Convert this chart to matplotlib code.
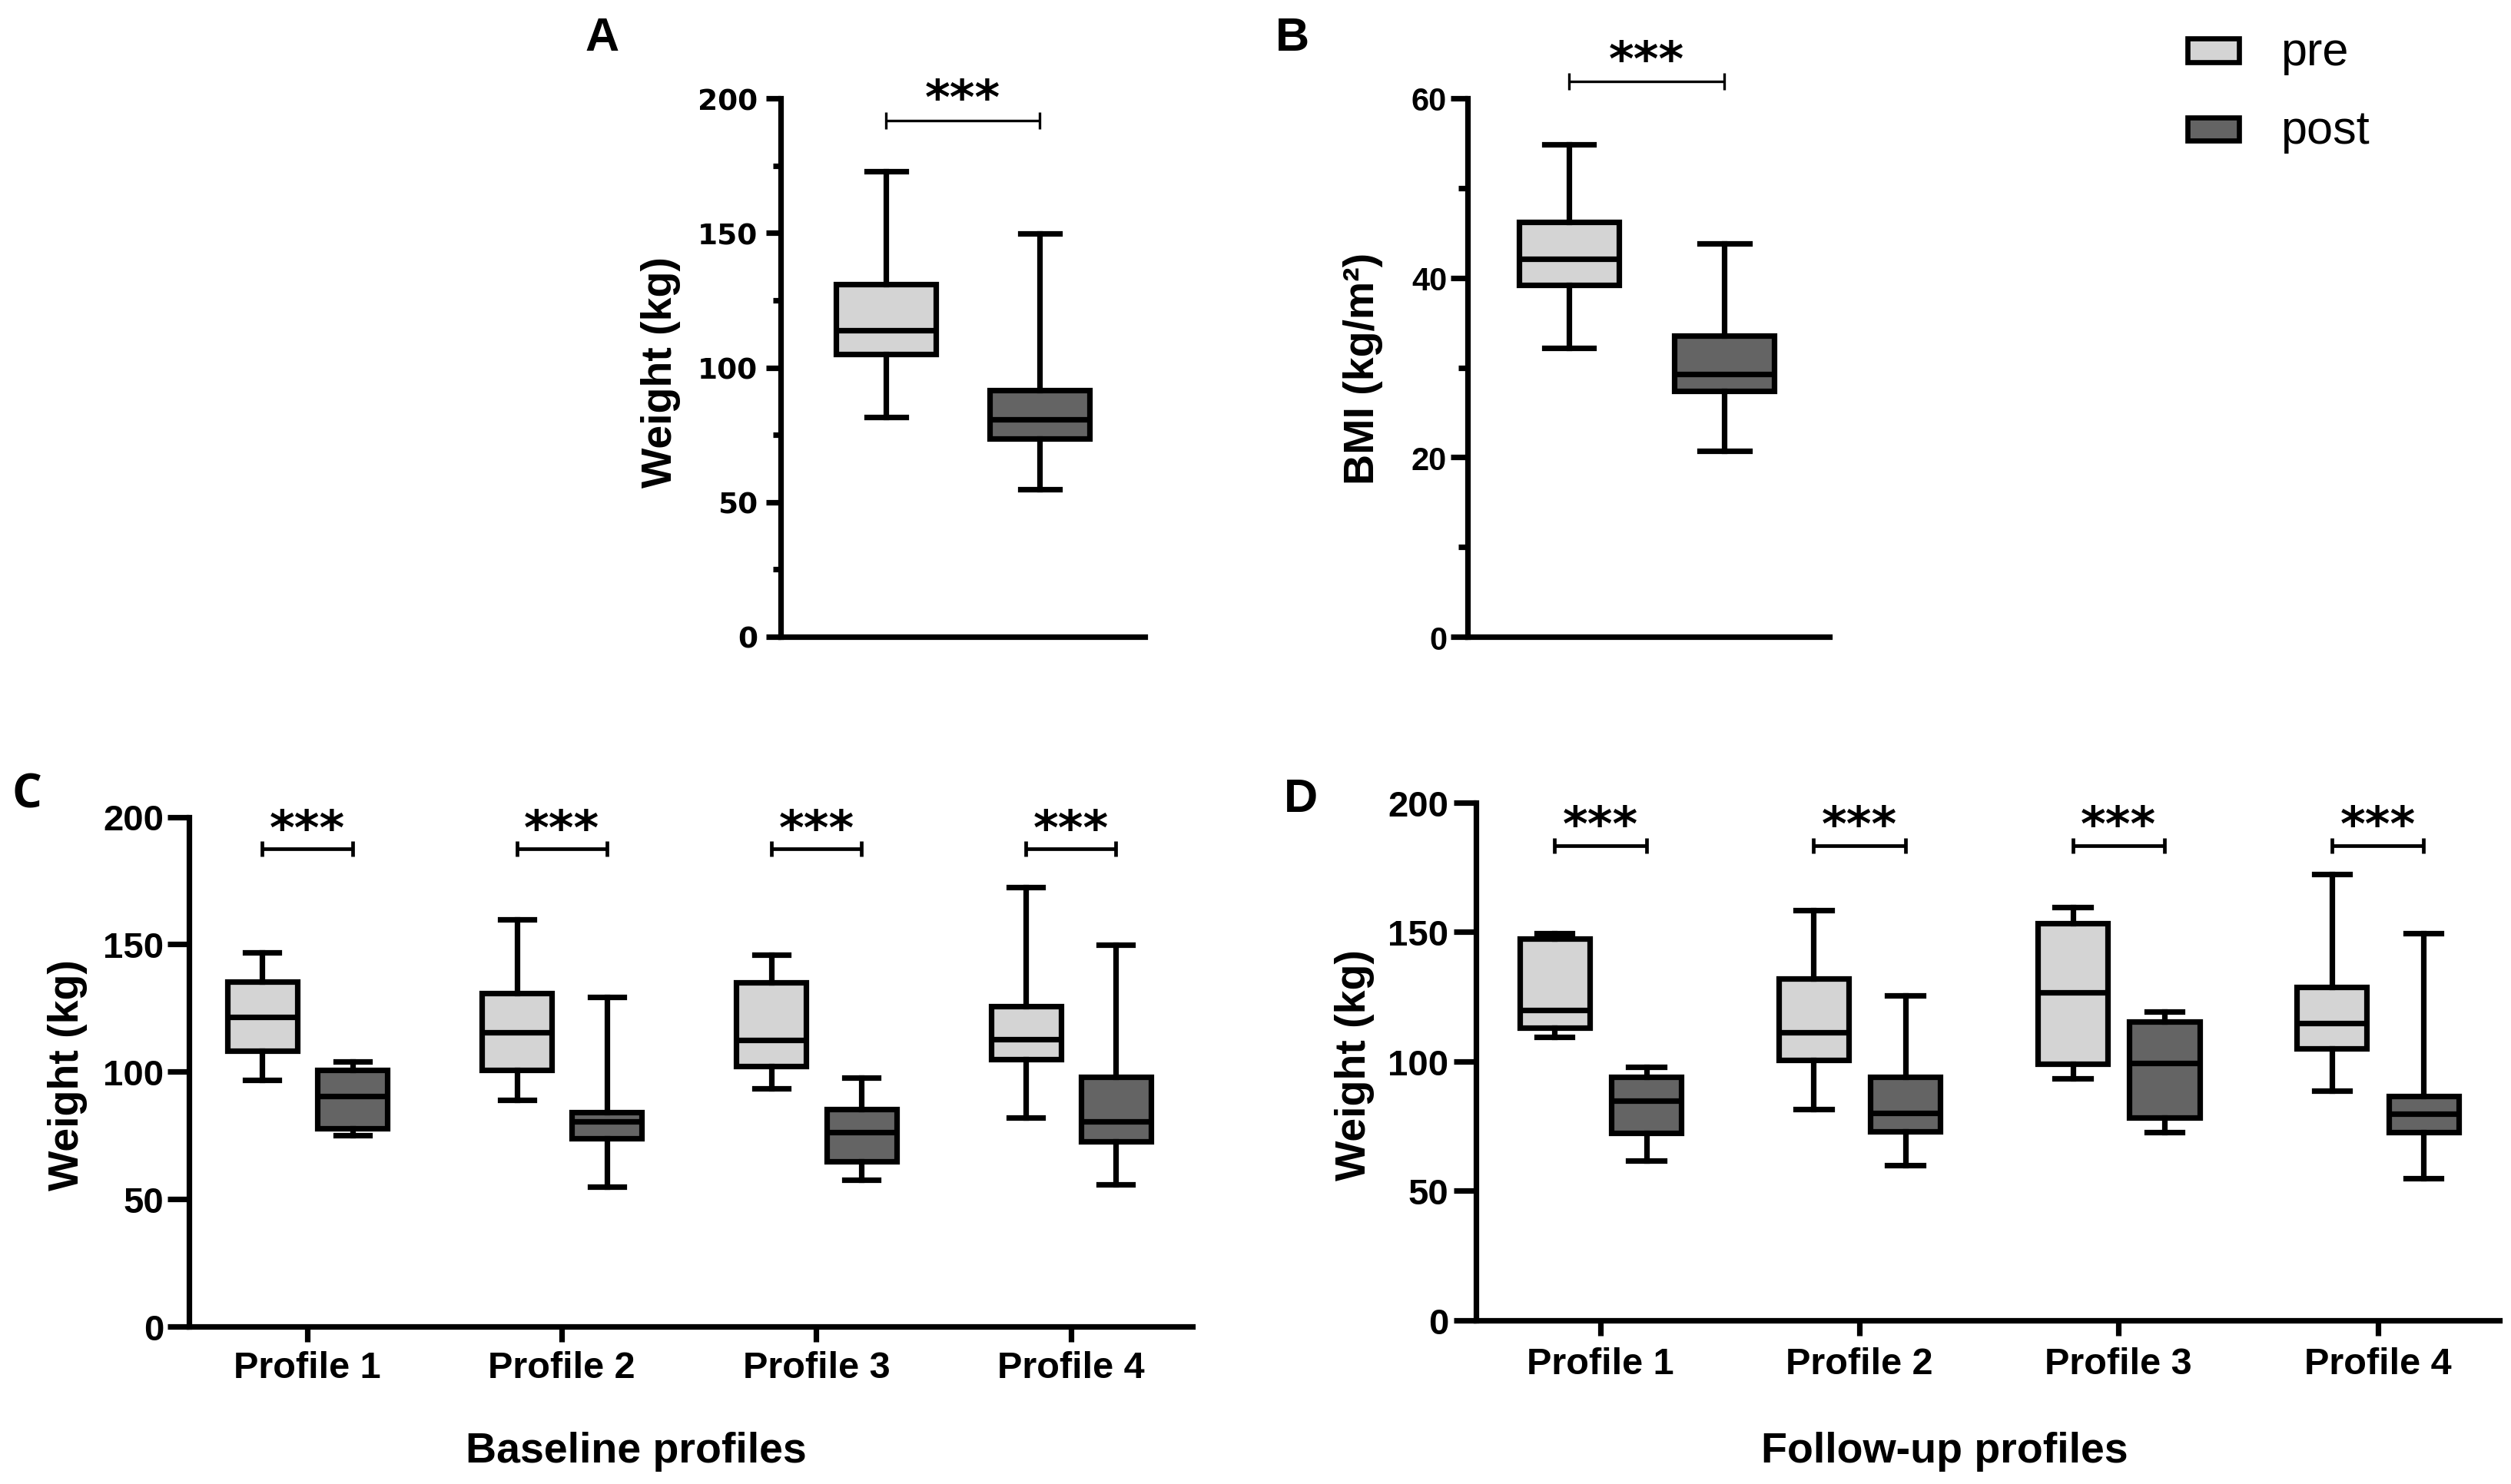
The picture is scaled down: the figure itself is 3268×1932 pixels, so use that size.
import matplotlib
matplotlib.use('Agg')
import matplotlib.pyplot as plt
from matplotlib.patches import Rectangle
from matplotlib.ticker import MultipleLocator

plt.rcParams['font.family'] = ['Liberation Sans', 'DejaVu Sans']

# ---------------- data ----------------
groups = ['pre', 'post']
profiles = ['Profile 1', 'Profile 2', 'Profile 3', 'Profile 4']
pre_color = '#d4d4d4'
post_color = '#646464'

# Panel A: weight (kg), [pre, post]
a_whislo = [81.5, 54.9]
a_q1 = [105.0, 73.7]
a_med = [113.7, 80.7]
a_q3 = [131.0, 91.7]
a_whishi = [172.8, 149.8]

# Panel B: BMI (kg/m2), [pre, post]
b_whislo = [32.2, 20.7]
b_q1 = [39.2, 27.4]
b_med = [42.1, 29.3]
b_q3 = [46.2, 33.55]
b_whishi = [54.9, 43.8]

# Panel C: baseline profiles
c_pre_whislo = [96.9, 89.0, 93.3, 82.1]
c_pre_q1 = [108.3, 100.8, 102.2, 105.0]
c_pre_med = [121.5, 115.3, 112.5, 112.8]
c_pre_q3 = [135.3, 130.8, 135.0, 125.6]
c_pre_whishi = [146.8, 159.9, 145.8, 172.4]
c_post_whislo = [75.0, 54.9, 57.7, 55.9]
c_post_q1 = [77.8, 74.0, 64.7, 72.7]
c_post_med = [90.5, 80.6, 76.3, 80.6]
c_post_q3 = [100.8, 84.0, 85.3, 98.0]
c_post_whishi = [104.0, 129.3, 97.8, 149.8]

# Panel D: follow-up profiles
d_pre_whislo = [109.6, 81.5, 93.5, 88.6]
d_pre_q1 = [112.9, 100.6, 99.1, 105.0]
d_pre_med = [119.7, 111.1, 126.8, 114.8]
d_pre_q3 = [147.4, 131.9, 153.5, 128.8]
d_pre_whishi = [149.4, 158.5, 159.6, 172.5]
d_post_whislo = [61.8, 59.8, 72.7, 54.8]
d_post_q1 = [72.3, 72.9, 78.4, 72.7]
d_post_med = [84.7, 80.1, 99.4, 79.7]
d_post_q3 = [93.9, 94.1, 115.3, 86.5]
d_post_whishi = [97.8, 125.5, 119.4, 149.4]

# significance brackets (y level in data units)
a_bracket = 191.7
b_bracket = 61.9
c_bracket = [187.4, 187.4, 187.4, 187.4]
d_bracket = [183.4, 183.4, 183.4, 183.4]
sig_label = '***'

# ---------------- helpers ----------------
def make_stats(lo, q1, med, q3, hi):
    return [dict(whislo=l, q1=a, med=m, q3=b, whishi=h, fliers=[])
            for l, a, m, b, h in zip(lo, q1, med, q3, hi)]


def draw_boxes(ax, positions, stats, width, capw, colors, lw):
    bp = ax.bxp(stats, positions=positions, widths=width, capwidths=capw,
                patch_artist=True, showfliers=False, manage_ticks=False,
                boxprops=dict(edgecolor='black', linewidth=lw),
                medianprops=dict(color='black', linewidth=lw, solid_capstyle='butt'),
                whiskerprops=dict(color='black', linewidth=lw),
                capprops=dict(color='black', linewidth=lw))
    for patch, c in zip(bp['boxes'], colors):
        patch.set_facecolor(c)
        patch.set_joinstyle('miter')
    return bp


def bracket(ax, x0, x1, y, lw, ms, fs, off):
    ax.plot([x0, x1], [y, y], color='black', lw=lw, marker='|', markersize=ms,
            mew=lw, clip_on=False, solid_capstyle='butt')
    ax.annotate(sig_label, xy=((x0 + x1) / 2, y), xytext=(0, off),
                textcoords='offset points', ha='center', va='baseline',
                fontsize=fs, fontweight='bold', family='DejaVu Sans',
                annotation_clip=False)


def style(ax, lw):
    for s in ['top', 'right']:
        ax.spines[s].set_visible(False)
    for s in ['left', 'bottom']:
        ax.spines[s].set_linewidth(lw)
        ax.spines[s].set_capstyle('projecting')


W, H = 3268, 1933
fig = plt.figure(figsize=(W / 200, H / 200), dpi=200)


def px_rect(x0, y_top, x1, y_bot):
    return [x0 / W, 1 - y_bot / H, (x1 - x0) / W, (y_bot - y_top) / H]


# ---------------- Panel A ----------------
axA = fig.add_axes(px_rect(1016, 129, 1490, 830))
style(axA, 2.6)
draw_boxes(axA, [0, 1], make_stats(a_whislo, a_q1, a_med, a_q3, a_whishi),
           0.65, 0.255, [pre_color, post_color], 2.6)
axA.set_xlim(-0.685, 1.685)
axA.set_ylim(0, 200)
axA.set_yticks([0, 50, 100, 150, 200])
axA.yaxis.set_minor_locator(MultipleLocator(25))
axA.tick_params(axis='x', bottom=False, labelbottom=False)
axA.tick_params(axis='y', which='major', length=6.8, width=2.6, pad=4)
axA.tick_params(axis='y', which='minor', length=3.6, width=2.6)
for t in axA.get_yticklabels():
    t.set_fontfamily('DejaVu Sans')
    t.set_fontweight('bold')
    t.set_fontsize(13.5)
bracket(axA, 0, 1, a_bracket, 1.2, 8, 22.5, 3.5)

# ---------------- Panel B ----------------
axB = fig.add_axes(px_rect(1909.6, 129, 2380.8, 830))
style(axB, 2.6)
draw_boxes(axB, [0, 1], make_stats(b_whislo, b_q1, b_med, b_q3, b_whishi),
           0.64, 0.32, [pre_color, post_color], 2.6)
axB.set_xlim(-0.654, 1.675)
axB.set_ylim(0, 60)
axB.set_yticks([0, 20, 40, 60])
axB.yaxis.set_minor_locator(MultipleLocator(10))
axB.tick_params(axis='x', bottom=False, labelbottom=False)
axB.tick_params(axis='y', which='major', length=8, width=2.6, pad=1.5,
                labelsize=15)
axB.tick_params(axis='y', which='minor', length=4.5, width=2.6)
for t in axB.get_yticklabels():
    t.set_fontweight('bold')
bracket(axB, 0, 1, b_bracket, 1.2, 8, 22.5, 3)

# ---------------- Panel C & D ----------------
off = 0.177
panel_cd = [
    (px_rect(246, 1064.5, 1552, 1728), (-0.465, 3.478), 10, 1.8, 4,
     (c_pre_whislo, c_pre_q1, c_pre_med, c_pre_q3, c_pre_whishi),
     (c_post_whislo, c_post_q1, c_post_med, c_post_q3, c_post_whishi),
     c_bracket, 0.275, 0.133),
    (px_rect(1921, 1045.8, 3253, 1720), (-0.480, 3.47), 10.4, 2.5, 5,
     (d_pre_whislo, d_pre_q1, d_pre_med, d_pre_q3, d_pre_whishi),
     (d_post_whislo, d_post_q1, d_post_med, d_post_q3, d_post_whishi),
     d_bracket, 0.27, 0.138),
]
for rect, xl, ylen, ypad, xpad, pre, post, br, bw, cw in panel_cd:
    ax = fig.add_axes(rect)
    style(ax, 2.6)
    xs = list(range(len(profiles)))
    draw_boxes(ax, [x - off for x in xs], make_stats(*pre), bw, cw,
               [pre_color] * len(xs), 2.6)
    draw_boxes(ax, [x + off for x in xs], make_stats(*post), bw, cw,
               [post_color] * len(xs), 2.6)
    ax.set_xlim(*xl)
    ax.set_ylim(0, 200)
    ax.set_yticks([0, 50, 100, 150, 200])
    ax.set_xticks(xs)
    ax.set_xticklabels(profiles)
    ax.tick_params(axis='y', length=ylen, width=2.6, pad=ypad, labelsize=17)
    ax.tick_params(axis='x', length=7.2, width=2.6, pad=xpad, labelsize=17.5)
    for t in ax.get_yticklabels() + ax.get_xticklabels():
        t.set_fontweight('bold')
    for x, y in zip(xs, br):
        bracket(ax, x - off, x + off, y, 1.7, 7, 22.5, 2.8)

# ---------------- labels ----------------
ylab = dict(rotation=90, ha='center', va='center', fontsize=20, fontweight='bold')
fig.text(860 / W, 1 - 485 / H, 'Weight (kg)', **ylab)
fig.text(1774 / W, 1 - 480 / H, 'BMI (kg/m²)', **ylab)
fig.text(88 / W, 1 - 1400 / H, 'Weight (kg)', **ylab)
fig.text(1763 / W, 1 - 1387 / H, 'Weight (kg)', **ylab)

fig.text(828 / W, 1 - 1904 / H, 'Baseline profiles', ha='center', va='baseline',
         fontsize=20, fontweight='bold')
fig.text(2531 / W, 1 - 1904 / H, 'Follow-up profiles', ha='center', va='baseline',
         fontsize=20, fontweight='bold')

letter = dict(ha='center', va='baseline', fontsize=22, fontweight='bold')
fig.text(784 / W, 1 - 66 / H, 'A', **letter)
fig.text(1682 / W, 1 - 66 / H, 'B', **letter)
fig.text(35 / W, 1 - 1052 / H, 'C', family=['Open Sans', 'Liberation Sans'], **letter)
fig.text(1693 / W, 1 - 1057 / H, 'D', **letter)

# ---------------- legend ----------------
for (y_top, y_bot), c, lab, base in [((51.3, 81.7), pre_color, groups[0], 85),
                                    ((154.3, 183.7), post_color, groups[1], 187)]:
    fig.add_artist(Rectangle((2847 / W, 1 - y_bot / H), 67.4 / W, (y_bot - y_top) / H,
                             transform=fig.transFigure, facecolor=c,
                             edgecolor='black', linewidth=2.4, joinstyle='miter'))
    fig.text(2968 / W, 1 - base / H, lab, ha='left', va='baseline', fontsize=22)

fig.savefig('out.png', dpi=200, facecolor='white')
